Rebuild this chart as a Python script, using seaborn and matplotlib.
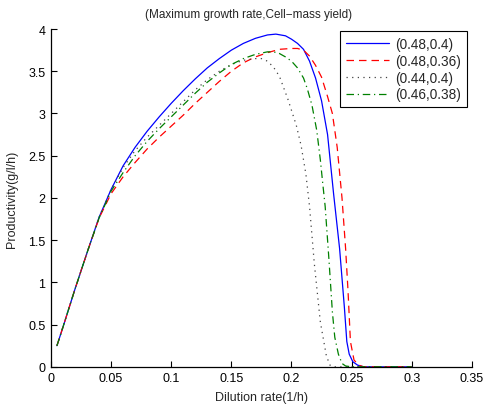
import pandas as pd
import matplotlib
matplotlib.use("Agg")
import matplotlib.pyplot as plt
import seaborn as sns

# --- Data ---
d_blue = [0.005, 0.01, 0.02, 0.03, 0.04, 0.05, 0.06, 0.07, 0.08, 0.09, 0.1, 0.11, 0.12,
          0.13, 0.14, 0.15, 0.16, 0.17, 0.18, 0.187, 0.195, 0.2, 0.205, 0.21, 0.215,
          0.22, 0.225, 0.23, 0.235, 0.24, 0.244, 0.246, 0.248, 0.251, 0.255, 0.26, 0.3]
p_blue = [0.25, 0.47, 0.92, 1.35, 1.77, 2.1, 2.38, 2.6, 2.79, 2.96, 3.12, 3.27, 3.41,
          3.54, 3.65, 3.75, 3.83, 3.89, 3.93, 3.94, 3.92, 3.88, 3.83, 3.76, 3.62,
          3.42, 3.15, 2.75, 2.05, 1.4, 0.7, 0.3, 0.15, 0.06, 0.02, 0.0, 0.0]

d_red = [0.005, 0.01, 0.02, 0.03, 0.04, 0.05, 0.06, 0.07, 0.08, 0.09, 0.1, 0.11, 0.12,
         0.13, 0.14, 0.15, 0.16, 0.17, 0.18, 0.19, 0.2, 0.205, 0.21, 0.215, 0.22, 0.225,
         0.23, 0.234, 0.238, 0.242, 0.245, 0.247, 0.249, 0.252, 0.256, 0.26, 0.3]
p_red = [0.25, 0.47, 0.92, 1.35, 1.76, 2.05, 2.25, 2.42, 2.58, 2.72, 2.85, 2.98, 3.12,
         3.25, 3.38, 3.5, 3.6, 3.67, 3.72, 3.76, 3.77, 3.77, 3.75, 3.68, 3.57, 3.43,
         3.2, 3.0, 2.6, 2.0, 1.4, 0.9, 0.3, 0.08, 0.02, 0.0, 0.0]

d_gray = [0.005, 0.01, 0.02, 0.03, 0.04, 0.05, 0.06, 0.07, 0.08, 0.09, 0.1, 0.11, 0.12,
          0.13, 0.14, 0.15, 0.16, 0.17, 0.175, 0.18, 0.185, 0.19, 0.197, 0.204, 0.208,
          0.212, 0.215, 0.219, 0.224, 0.229, 0.232, 0.235, 0.3]
p_gray = [0.25, 0.47, 0.92, 1.35, 1.77, 2.1, 2.36, 2.56, 2.72, 2.86, 3.0, 3.14, 3.28,
          3.4, 3.5, 3.58, 3.63, 3.65, 3.65, 3.62, 3.55, 3.44, 3.17, 2.86, 2.62,
          2.28, 1.9, 1.22, 0.53, 0.13, 0.02, 0.0, 0.0]

d_green = [0.005, 0.01, 0.02, 0.03, 0.04, 0.05, 0.06, 0.07, 0.08, 0.09, 0.1, 0.11, 0.12,
           0.13, 0.14, 0.15, 0.16, 0.17, 0.18, 0.185, 0.19, 0.195, 0.2, 0.205, 0.21,
           0.213, 0.217, 0.221, 0.224, 0.226, 0.228, 0.231, 0.234, 0.236, 0.239, 0.242,
           0.245, 0.25, 0.3]
p_green = [0.25, 0.47, 0.92, 1.35, 1.76, 2.08, 2.3, 2.5, 2.67, 2.82, 2.96, 3.1, 3.24,
           3.37, 3.48, 3.58, 3.65, 3.7, 3.73, 3.73, 3.71, 3.67, 3.62, 3.54, 3.42,
           3.3, 3.1, 2.8, 2.45, 2.17, 1.9, 1.3, 0.65, 0.35, 0.15, 0.04,
           0.01, 0.0, 0.0]

labels = ["(0.48,0.4)", "(0.48,0.36)", "(0.44,0.4)", "(0.46,0.38)"]

# --- Plot ---
sns.set_style("ticks")
plt.rcParams['font.family'] = ['Liberation Sans', 'DejaVu Sans']

fig = plt.figure(figsize=(4.85, 4.06), dpi=100)
ax = fig.add_axes([0.105, 0.094, 0.868, 0.832])

series = [
    (d_blue, p_blue, labels[0], dict(color='#0000ff', linestyle='-', linewidth=0.9)),
    (d_red, p_red, labels[1], dict(color='#ff0000', dashes=(6, 4), linewidth=0.9)),
    (d_gray, p_gray, labels[2], dict(color='#444444', dashes=(1, 3.5), linewidth=0.9)),
    (d_green, p_green, labels[3], dict(color='#008000', dashes=(6, 3, 1, 3), linewidth=0.9)),
]
for d, p, lab, style in series:
    df = pd.DataFrame({'D': d, 'P': p})
    sns.lineplot(data=df, x='D', y='P', ax=ax, label=lab, sort=False, **style)

ax.set_xlim(0, 0.35)
ax.set_ylim(0, 4)
ax.set_xticks([0, 0.05, 0.1, 0.15, 0.2, 0.25, 0.3, 0.35])
ax.set_xticklabels(['0', '0.05', '0.1', '0.15', '0.2', '0.25', '0.3', '0.35'])
ax.set_yticks([0, 0.5, 1, 1.5, 2, 2.5, 3, 3.5, 4])
ax.set_yticklabels(['0', '0.5', '1', '1.5', '2', '2.5', '3', '3.5', '4'])
ax.tick_params(direction='in', length=4, width=0.8, labelsize=9, colors='black', pad=4)
sns.despine(ax=ax)
for s in ['left', 'bottom']:
    ax.spines[s].set_linewidth(0.9)
    ax.spines[s].set_color('black')

ax.set_xlabel("Dilution rate(1/h)", fontsize=9, labelpad=5)
ax.set_ylabel("Productivity(g/l/h)", fontsize=9, labelpad=7)
ax.set_title("(Maximum growth rate,Cell\u2212mass yield)", fontsize=8.5, pad=9, x=0.47)

leg = ax.legend(loc='upper right', bbox_to_anchor=(0.988, 0.994), borderaxespad=0,
                fontsize=9.8, fancybox=False, framealpha=1, edgecolor='black',
                handlelength=3.2, borderpad=0.45, labelspacing=0.2, handletextpad=0.4)
leg.get_frame().set_linewidth(0.8)

fig.savefig("out.png", dpi=100)
